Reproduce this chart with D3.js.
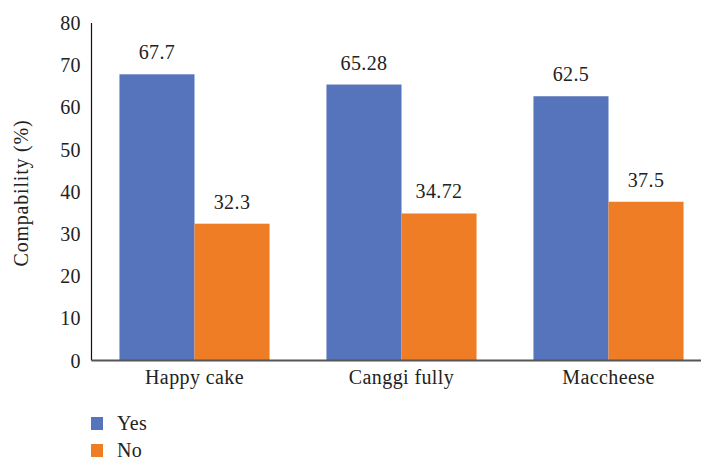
<!DOCTYPE html>
<html>
<head>
<meta charset="utf-8">
<script src="https://cdn.jsdelivr.net/npm/d3@7"></script>
<style>
  body { margin: 0; background: #fff; }
</style>
</head>
<body>
<svg id="chart" width="701" height="457"></svg>
<script>
var categories = ["Happy cake", "Canggi fully", "Maccheese"];
var seriesNames = ["Yes", "No"];
var yesValues = [67.7, 65.28, 62.5];
var noValues = [32.3, 34.72, 37.5];
var yTicks = [0, 10, 20, 30, 40, 50, 60, 70, 80];
var colors = ["#5574bc", "#ee7d26"];
var serif = "'Liberation Serif'";
var fs = 20;

var data = categories.map(function(c, i) {
  return { cat: c, values: [yesValues[i], noValues[i]] };
});

var svg = d3.select("#chart");

var x0 = d3.scaleBand()
  .domain(categories)
  .range([91, 712])
  .paddingInner(0.275)
  .paddingOuter(0.1375);

var x1 = d3.scaleBand()
  .domain(seriesNames)
  .range([0, x0.bandwidth()]);

var y = d3.scaleLinear()
  .domain([0, 80])
  .range([360, 22.4]);

function styleText(sel) {
  sel.style("font-family", serif)
    .attr("font-size", fs)
    .attr("letter-spacing", 0.4)
    .attr("fill", "#222");
}

// y axis
var yAxis = svg.append("g")
  .attr("transform", "translate(91,0)")
  .call(d3.axisLeft(y).tickValues(yTicks).tickSize(0).tickPadding(10));
yAxis.select(".domain").attr("stroke", "#111").attr("stroke-width", 1.2);
yAxis.selectAll("text").call(styleText).attr("dy", "0.35em");

svg.append("text")
  .attr("transform", "translate(28,193) rotate(-90)")
  .attr("text-anchor", "middle")
  .call(styleText)
  .attr("letter-spacing", 0.8)
  .text("Compability (%)");

// bars
var groups = svg.selectAll(".grp")
  .data(data)
  .join("g")
  .attr("class", "grp")
  .attr("transform", function(d) { return "translate(" + x0(d.cat) + ",0)"; });

groups.selectAll("rect")
  .data(function(d) { return d.values.map(function(v, i) { return { s: seriesNames[i], v: v, i: i }; }); })
  .join("rect")
  .attr("x", function(d) { return x1(d.s); })
  .attr("y", function(d) { return y(d.v); })
  .attr("width", x1.bandwidth())
  .attr("height", function(d) { return y(0) - y(d.v); })
  .attr("fill", function(d) { return colors[d.i]; });

groups.selectAll(".val")
  .data(function(d) { return d.values.map(function(v, i) { return { s: seriesNames[i], v: v }; }); })
  .join("text")
  .attr("class", "val")
  .attr("x", function(d) { return x1(d.s) + x1.bandwidth() / 2; })
  .attr("y", function(d) { return y(d.v) - 15; })
  .attr("text-anchor", "middle")
  .call(styleText)
  .text(function(d) { return d.v; });

// x axis
var xAxis = svg.append("g")
  .attr("transform", "translate(0,360)")
  .call(d3.axisBottom(x0).tickSize(0).tickPadding(10));
xAxis.select(".domain").attr("stroke", "#555").attr("stroke-width", 2);
xAxis.selectAll("text").call(styleText);

// legend
var legend = svg.selectAll(".leg")
  .data(seriesNames)
  .join("g")
  .attr("class", "leg")
  .attr("transform", function(d, i) { return "translate(91," + (417 + i * 27) + ")"; });
legend.append("rect")
  .attr("width", 12).attr("height", 13)
  .attr("fill", function(d, i) { return colors[i]; });
legend.append("text")
  .attr("x", 26).attr("y", 13)
  .call(styleText)
  .text(function(d) { return d; });
</script>
</body>
</html>
